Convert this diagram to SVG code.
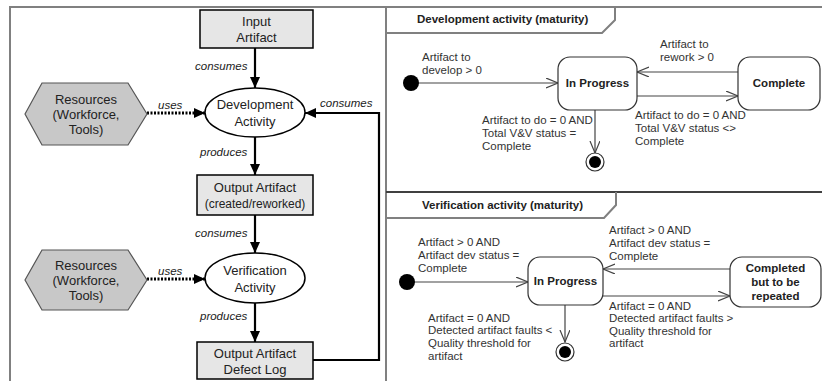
<svg xmlns="http://www.w3.org/2000/svg" width="822" height="381" viewBox="0 0 822 381">
  <style>
    .frame { fill: none; stroke: #808080; stroke-width: 2; }
    .box { fill: #e6e6e6; stroke: #000; stroke-width: 1.5; }
    .hex { fill: #c8c8c8; stroke: #555; stroke-width: 1.2; }
    .act { fill: #fff; stroke: #000; stroke-width: 1.5; }
    .flow { fill: none; stroke: #000; stroke-width: 2.2; }
    .dots { fill: none; stroke: #000; stroke-width: 3; stroke-dasharray: 2 1.5; }
    .state { fill: #fff; stroke: #333; stroke-width: 1.2; }
    .trans { fill: none; stroke: #444; stroke-width: 1.2; }
    .node { font-family: "Liberation Sans", Arial, sans-serif; font-size: 13px; fill: #222; text-anchor: middle; }
    .small { font-size: 12px; }
    .lbl { font-family: "Liberation Sans", Arial, sans-serif; font-size: 11.5px; font-style: italic; fill: #222; }
    .cond { font-family: "Liberation Sans", Arial, sans-serif; font-size: 11.5px; fill: #333; }
    .sname { font-family: "Liberation Sans", Arial, sans-serif; font-size: 11.5px; font-weight: bold; fill: #222; text-anchor: middle; }
    .tab { font-family: "Liberation Sans", Arial, sans-serif; font-size: 11.5px; font-weight: bold; fill: #222; }
  </style>
  <defs>
    <marker id="solid" markerUnits="userSpaceOnUse" markerWidth="12" markerHeight="10" refX="11" refY="5" orient="auto">
      <path d="M0,0 L11,5 L0,10 z" fill="#000"/>
    </marker>
    <marker id="open" markerUnits="userSpaceOnUse" markerWidth="14" markerHeight="12" refX="12" refY="5" orient="auto">
      <path d="M0,0 L12,5 L0,10" fill="none" stroke="#444" stroke-width="1.2"/>
    </marker>
  </defs>

  <!-- panel frames -->
  <g id="frames">
    <path class="frame" d="M10,381 V7 H822"/>
    <line class="frame" x1="386" y1="7" x2="386" y2="381"/>
    <path class="frame" d="M386,33 H602 L615,20 V7" stroke-width="1.5"/>
    <line x1="386" y1="192" x2="822" y2="192" stroke="#404040" stroke-width="2"/>
    <path class="frame" d="M386,218 H604 L616,205 V192" stroke-width="1.5"/>
    <text class="tab" x="417" y="23">Development activity (maturity)</text>
    <text class="tab" x="422" y="209">Verification activity (maturity)</text>
  </g>

  <!-- artifact flow connectors -->
  <g id="connectors">
    <line class="flow" x1="255" y1="48" x2="255" y2="88" marker-end="url(#solid)"/>
    <line class="dots" x1="147" y1="113" x2="205" y2="113" marker-end="url(#solid)"/>
    <line class="flow" x1="255" y1="137" x2="255" y2="175" marker-end="url(#solid)"/>
    <line class="flow" x1="255" y1="215" x2="255" y2="253" marker-end="url(#solid)"/>
    <line class="dots" x1="147" y1="279" x2="205" y2="279" marker-end="url(#solid)"/>
    <line class="flow" x1="255" y1="303" x2="255" y2="342" marker-end="url(#solid)"/>
    <path class="flow" d="M313,360 H379 V113 H305" marker-end="url(#solid)"/>
    <text class="lbl" x="195" y="70">consumes</text>
    <text class="lbl" x="158" y="109">uses</text>
    <text class="lbl" x="320" y="107">consumes</text>
    <text class="lbl" x="200" y="156">produces</text>
    <text class="lbl" x="195" y="237">consumes</text>
    <text class="lbl" x="158" y="275">uses</text>
    <text class="lbl" x="200" y="320">produces</text>

    <!-- development state machine transitions -->
    <line class="trans" x1="411" y1="83" x2="558" y2="83" marker-end="url(#open)"/>
    <line class="trans" x1="738" y1="72" x2="637" y2="72" marker-end="url(#open)"/>
    <line class="trans" x1="637" y1="96" x2="738" y2="96" marker-end="url(#open)"/>
    <line class="trans" x1="595" y1="110" x2="595" y2="153" marker-end="url(#open)"/>
    <text class="cond" x="422"><tspan x="422" y="61">Artifact to</tspan><tspan x="422" y="74">develop &gt; 0</tspan></text>
    <text class="cond"><tspan x="660" y="48">Artifact to</tspan><tspan x="660" y="61">rework &gt; 0</tspan></text>
    <text class="cond"><tspan x="635" y="119">Artifact to do = 0 AND</tspan><tspan x="635" y="132">Total V&amp;V status &lt;&gt;</tspan><tspan x="635" y="145">Complete</tspan></text>
    <text class="cond"><tspan x="482" y="124">Artifact to do = 0 AND</tspan><tspan x="482" y="137">Total V&amp;V status =</tspan><tspan x="482" y="150">Complete</tspan></text>

    <!-- verification state machine transitions -->
    <line class="trans" x1="407" y1="282" x2="528" y2="282" marker-end="url(#open)"/>
    <line class="trans" x1="730" y1="269" x2="603" y2="269" marker-end="url(#open)"/>
    <line class="trans" x1="603" y1="296" x2="730" y2="296" marker-end="url(#open)"/>
    <line class="trans" x1="565" y1="305" x2="565" y2="342" marker-end="url(#open)"/>
    <text class="cond"><tspan x="418" y="246">Artifact &gt; 0 AND</tspan><tspan x="418" y="259">Artifact dev status =</tspan><tspan x="418" y="272">Complete</tspan></text>
    <text class="cond"><tspan x="609" y="234">Artifact &gt; 0 AND</tspan><tspan x="609" y="247">Artifact dev status =</tspan><tspan x="609" y="260">Complete</tspan></text>
    <text class="cond"><tspan x="609" y="310">Artifact = 0 AND</tspan><tspan x="609" y="322">Detected artifact faults &gt;</tspan><tspan x="609" y="335">Quality threshold for</tspan><tspan x="609" y="347">artifact</tspan></text>
    <text class="cond"><tspan x="428" y="322">Artifact = 0 AND</tspan><tspan x="428" y="334">Detected artifact faults &lt;</tspan><tspan x="428" y="347">Quality threshold for</tspan><tspan x="428" y="360">artifact</tspan></text>
  </g>

  <!-- artifact flow nodes -->
  <g id="input-artifact">
    <rect class="box" x="200" y="10" width="113" height="38"/>
    <text class="node" x="256.5" y="26">Input</text>
    <text class="node" x="256.5" y="42">Artifact</text>
  </g>
  <g id="resources-dev">
    <polygon class="hex" points="25,114 42,83 128,83 147,114 128,145 42,145"/>
    <text class="node" x="86" y="104">Resources</text>
    <text class="node" x="86" y="119">(Workforce,</text>
    <text class="node" x="86" y="134">Tools)</text>
  </g>
  <g id="development-activity">
    <ellipse class="act" cx="255" cy="112.5" rx="50" ry="24.5"/>
    <text class="node" x="255" y="109">Development</text>
    <text class="node" x="255" y="126">Activity</text>
  </g>
  <g id="output-artifact">
    <rect class="box" x="197" y="175" width="116" height="40"/>
    <text class="node" x="255" y="192">Output Artifact</text>
    <text class="node small" x="255" y="208">(created/reworked)</text>
  </g>
  <g id="resources-ver">
    <polygon class="hex" points="25,280 42,250 128,250 147,280 128,310 42,310"/>
    <text class="node" x="86" y="270">Resources</text>
    <text class="node" x="86" y="285">(Workforce,</text>
    <text class="node" x="86" y="300">Tools)</text>
  </g>
  <g id="verification-activity">
    <ellipse class="act" cx="255" cy="278" rx="50" ry="25"/>
    <text class="node" x="255" y="275">Verification</text>
    <text class="node" x="255" y="292">Activity</text>
  </g>
  <g id="defect-log">
    <rect class="box" x="197" y="342" width="116" height="37"/>
    <text class="node" x="255" y="358">Output Artifact</text>
    <text class="node" x="255" y="374">Defect Log</text>
  </g>

  <!-- development maturity states -->
  <g id="dev-initial"><circle cx="411" cy="83" r="8" fill="#000"/></g>
  <g id="dev-in-progress">
    <rect class="state" x="558" y="57" width="79" height="53" rx="12"/>
    <text class="sname" x="597.5" y="87">In Progress</text>
  </g>
  <g id="dev-complete">
    <rect class="state" x="738" y="57" width="82" height="53" rx="12"/>
    <text class="sname" x="779" y="87">Complete</text>
  </g>
  <g id="dev-final">
    <circle cx="595" cy="162" r="9" fill="#fff" stroke="#333" stroke-width="1.2"/>
    <circle cx="595" cy="162" r="6" fill="#000"/>
  </g>

  <!-- verification maturity states -->
  <g id="ver-initial"><circle cx="407" cy="282" r="8" fill="#000"/></g>
  <g id="ver-in-progress">
    <rect class="state" x="528" y="257" width="75" height="48" rx="12"/>
    <text class="sname" x="565.5" y="285">In Progress</text>
  </g>
  <g id="ver-repeated">
    <rect class="state" x="730" y="257" width="91" height="50" rx="12"/>
    <text class="sname" x="775.5" y="272">Completed</text>
    <text class="sname" x="775.5" y="286">but to be</text>
    <text class="sname" x="775.5" y="300">repeated</text>
  </g>
  <g id="ver-final">
    <circle cx="565" cy="352" r="9" fill="#fff" stroke="#333" stroke-width="1.2"/>
    <circle cx="565" cy="352" r="6" fill="#000"/>
  </g>
</svg>
